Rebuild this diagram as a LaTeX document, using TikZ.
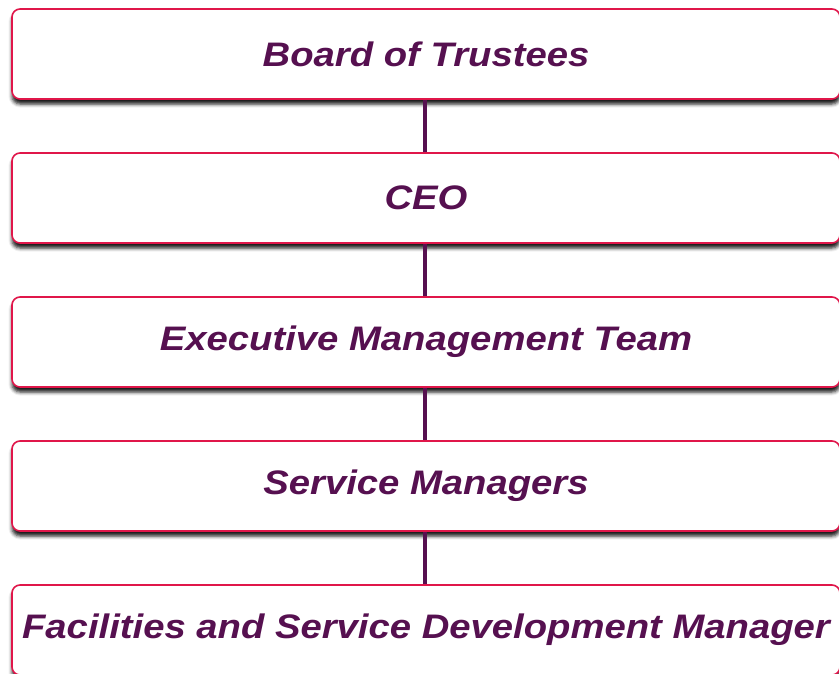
\documentclass[tikz,border=0pt]{standalone}
\usepackage{fontspec}
\setmainfont{Liberation Sans}
\newfontfamily\boxfont[FakeStretch=1.125]{Liberation Sans}
\usetikzlibrary{shadows.blur}
\definecolor{boxborder}{HTML}{E0164A}
\definecolor{txtpurple}{HTML}{561050}
\tikzset{
  orgbox/.style={draw=boxborder, line width=1.6pt, fill=white, rounded corners=8pt,
    minimum width=828pt, minimum height=90pt, inner sep=0pt,
    font=\boxfont\fontsize{34}{37}\selectfont\bfseries\itshape, text=txtpurple,
    blur shadow={shadow xshift=0pt, shadow yshift=-5pt, shadow blur radius=3.5pt, shadow opacity=90}},
  link/.style={draw=txtpurple, line width=3.5pt}
}
\begin{document}
\begin{tikzpicture}[x=1pt,y=-1pt]
\useasboundingbox (0,0) rectangle (839,673);
\node[orgbox] (b1) at (426,54) {Board of Trustees};
\node[orgbox] (b2) at (426,198) {CEO};
\node[orgbox] (b3) at (426,342) {Executive Management Team};
\node[orgbox] (b4) at (426,486) {Service Managers};
\node[orgbox] (b5) at (426,630) {Facilities and Service Development Manager};
\draw[link] (b1.south -| 425,0) -- (b2.north -| 425,0);
\draw[link] (b2.south -| 425,0) -- (b3.north -| 425,0);
\draw[link] (b3.south -| 425,0) -- (b4.north -| 425,0);
\draw[link] (b4.south -| 425,0) -- (b5.north -| 425,0);
\end{tikzpicture}
\end{document}
